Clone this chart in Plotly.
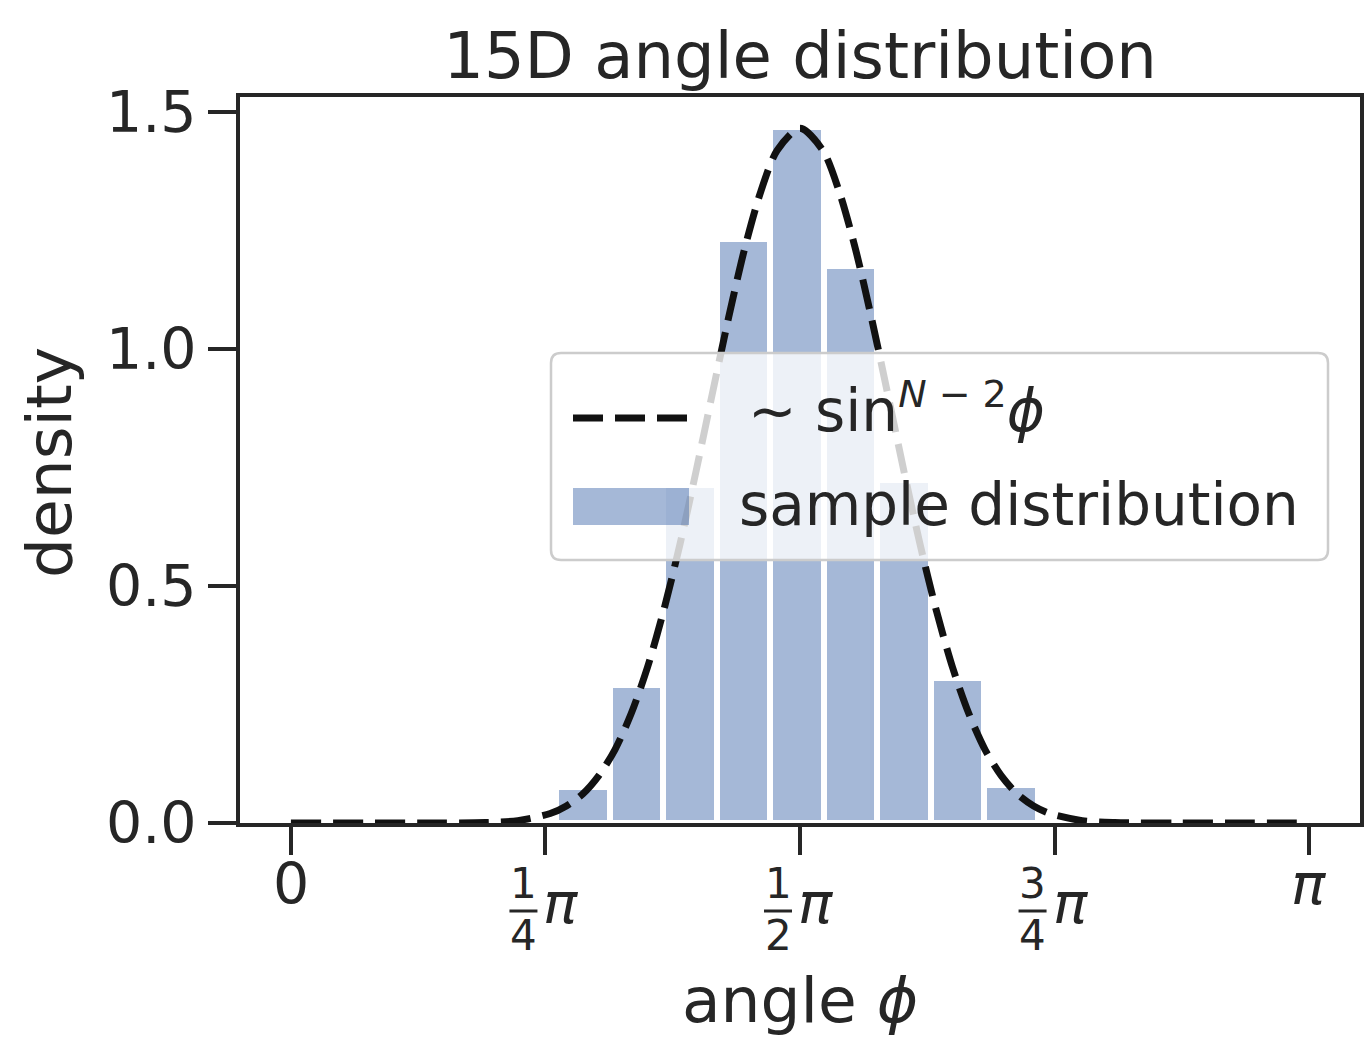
import plotly.graph_objects as go
import math

# ---------------- data ----------------
bin_centers = [0.9015, 1.0665, 1.2315, 1.3965, 1.5615, 1.7265, 1.8915, 2.0565, 2.2215, 2.3865]
bin_width = 0.165
bin_density = [0.077, 0.291, 0.714, 1.233, 1.469, 1.176, 0.724, 0.306, 0.081, 0.011]

curve_phi = [0.0, 0.4, 0.6, 0.7, 0.8, 0.85, 0.9, 0.95, 1.0, 1.05, 1.1, 1.15, 1.2, 1.25, 1.3,
             1.35, 1.4, 1.45, 1.5, 1.5708, 1.6416, 1.6916, 1.7416, 1.7916, 1.8416, 1.8916,
             1.9416, 1.9916, 2.0416, 2.0916, 2.1416, 2.1916, 2.2416, 2.2916, 2.3416, 2.4416,
             2.5416, 2.7416, 3.1416]
curve_density = [0.0, 0.0, 0.001, 0.005, 0.020, 0.036, 0.061, 0.100, 0.155, 0.231, 0.328,
                 0.448, 0.587, 0.742, 0.905, 1.065, 1.212, 1.333, 1.419, 1.466, 1.419, 1.333,
                 1.212, 1.065, 0.905, 0.742, 0.587, 0.448, 0.328, 0.231, 0.155, 0.100, 0.061,
                 0.036, 0.020, 0.005, 0.001, 0.0, 0.0]

x_tick_vals = [0, math.pi / 4, math.pi / 2, 3 * math.pi / 4, math.pi]
x_tick_labels = ["0", "1/4 π", "1/2 π", "3/4 π", "π"]
y_tick_vals = [0.0, 0.5, 1.0, 1.5]
y_tick_labels = ["0.0", "0.5", "1.0", "1.5"]

title_text = "15D angle distribution"
x_label = "angle <i>ϕ</i>"
y_label = "density"
legend_curve = ("∼ sin<sup><span style='font-size:38px'><i>N</i> − 2</span></sup>"
                "<i>ϕ</i>")
legend_hist = "sample distribution"

# ---------------- layout geometry ----------------
W, H = 1366, 1048
L, R, T, B = 240, 1360, 97, 823
x_range = [-0.05 * math.pi, 1.05 * math.pi]
y_range = [0, 1.532]
INK = "#262626"
FONT = "DejaVu Sans"
BAR = "rgba(76,114,176,0.5)"


def px_x(p):  # pixel -> paper x
    return (p - L) / (R - L)


def px_y(p):  # pixel -> paper y
    return (B - p) / (B - T)


def px_dx(p):  # pixel offset -> data x offset
    return p * (x_range[1] - x_range[0]) / (R - L)


fig = go.Figure()
fig.add_trace(go.Bar(
    x=bin_centers, y=bin_density, width=bin_width,
    marker=dict(color=BAR, line=dict(color="white", width=6)),
    name=legend_hist, showlegend=False,
))
fig.add_trace(go.Scatter(
    x=curve_phi, y=curve_density, mode="lines",
    line=dict(color="#111111", width=7, dash="30px,12px", shape="spline", smoothing=0.8),
    name="curve", showlegend=False,
))

annotations = []
shapes = []

# x tick labels
for val, lab in zip(x_tick_vals, x_tick_labels):
    if "/" in lab:
        frac, sym = lab.split(" ")
        num, den = frac.split("/")
        annotations.append(dict(x=val + px_dx(-22), y=px_y(884), xref="x", yref="paper",
                                text=num, showarrow=False, xanchor="center", yanchor="middle",
                                font=dict(size=42, family=FONT, color=INK)))
        annotations.append(dict(x=val + px_dx(-22), y=px_y(935), xref="x", yref="paper",
                                text=den, showarrow=False, xanchor="center", yanchor="middle",
                                font=dict(size=42, family=FONT, color=INK)))
        shapes.append(dict(type="line", xref="x", yref="paper",
                           x0=val + px_dx(-36), x1=val + px_dx(-8),
                           y0=px_y(911), y1=px_y(911),
                           line=dict(color=INK, width=3)))
        annotations.append(dict(x=val + px_dx(16), y=px_y(903), xref="x", yref="paper",
                                text="<i>" + sym + "</i>", showarrow=False,
                                xanchor="center", yanchor="middle",
                                font=dict(size=57, family=FONT, color=INK)))
    else:
        txt = "<i>" + lab + "</i>" if lab == "π" else lab
        annotations.append(dict(x=val, y=px_y(884), xref="x", yref="paper",
                                text=txt, showarrow=False, xanchor="center", yanchor="middle",
                                font=dict(size=57, family=FONT, color=INK)))

# axis titles
annotations.append(dict(x=px_x(800), y=px_y(1000), xref="paper", yref="paper",
                        text=x_label, showarrow=False, xanchor="center", yanchor="middle",
                        font=dict(size=63, family=FONT, color=INK)))
annotations.append(dict(x=px_x(49), y=px_y(463), xref="paper", yref="paper",
                        text=y_label, showarrow=False, xanchor="center", yanchor="middle",
                        textangle=-90, font=dict(size=63, family=FONT, color=INK)))

# legend box (rounded)
x0, x1 = px_x(551), px_x(1328)
y0, y1 = px_y(560), px_y(353)
rx, ry = 10 / (R - L), 10 / (B - T)
path = (f"M {x0+rx},{y0} L {x1-rx},{y0} Q {x1},{y0} {x1},{y0+ry} "
        f"L {x1},{y1-ry} Q {x1},{y1} {x1-rx},{y1} L {x0+rx},{y1} Q {x0},{y1} {x0},{y1-ry} "
        f"L {x0},{y0+ry} Q {x0},{y0} {x0+rx},{y0} Z")
shapes.append(dict(type="path", xref="paper", yref="paper", path=path, layer="above",
                   fillcolor="rgba(255,255,255,0.8)", line=dict(color="#cccccc", width=2.5)))
shapes.append(dict(type="line", xref="paper", yref="paper", layer="above",
                   x0=px_x(573), x1=px_x(689), y0=px_y(418), y1=px_y(418),
                   line=dict(color="#111111", width=7, dash="30px,12px")))
shapes.append(dict(type="rect", xref="paper", yref="paper", layer="above",
                   x0=px_x(573), x1=px_x(689), y0=px_y(525), y1=px_y(488),
                   fillcolor=BAR, line=dict(width=0)))
annotations.append(dict(x=px_x(746), y=px_y(408), xref="paper", yref="paper",
                        text=legend_curve, showarrow=False, xanchor="left", yanchor="middle",
                        font=dict(size=58, family=FONT, color=INK)))
annotations.append(dict(x=px_x(737), y=px_y(505), xref="paper", yref="paper",
                        text=legend_hist, showarrow=False, xanchor="left", yanchor="middle",
                        font=dict(size=58, family=FONT, color=INK)))

axis_common = dict(showline=True, linewidth=4, linecolor=INK, mirror=True,
                   ticks="outside", ticklen=28, tickwidth=4, tickcolor=INK,
                   showgrid=False, zeroline=False, automargin=False)

fig.update_layout(
    width=W, height=H,
    margin=dict(l=L, r=W - R, t=T, b=H - B),
    paper_bgcolor="white", plot_bgcolor="white",
    showlegend=False, bargap=0,
    title=dict(text=title_text, x=px_x(800) * (R - L) / W + L / W, xanchor="center",
               y=1 - 56 / H, yanchor="middle", yref="container",
               font=dict(size=64, family=FONT, color=INK)),
    xaxis=dict(range=x_range, tickvals=x_tick_vals, showticklabels=False, **axis_common),
    yaxis=dict(range=y_range, tickvals=y_tick_vals, ticktext=y_tick_labels,
               tickfont=dict(size=57, family=FONT, color=INK), ticklabelstandoff=0,
               **axis_common),
    annotations=annotations,
    shapes=shapes,
)

fig.write_html("out.html")
